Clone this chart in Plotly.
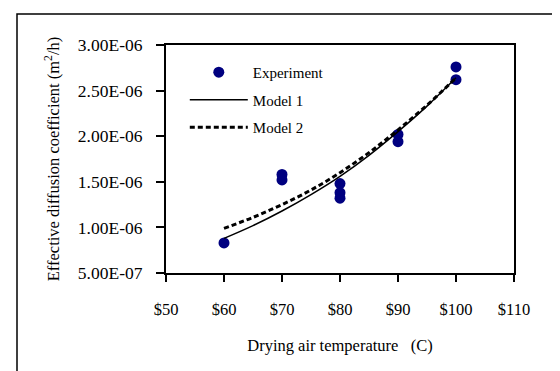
import plotly.graph_objects as go

# Data
exp_temp = [60, 70, 70, 80, 80, 80, 90, 90, 100, 100]
exp_deff = [8.3e-7, 1.58e-6, 1.52e-6, 1.48e-6, 1.38e-6, 1.32e-6,
            2.02e-6, 1.94e-6, 2.76e-6, 2.62e-6]

model_temp = [60, 65, 70, 75, 80, 85, 90, 95, 100]
model1_deff = [8.8e-7, 1.02e-6, 1.18e-6, 1.36e-6, 1.56e-6, 1.79e-6, 2.05e-6, 2.33e-6, 2.64e-6]
model2_deff = [9.9e-7, 1.11e-6, 1.25e-6, 1.41e-6, 1.60e-6, 1.82e-6, 2.07e-6, 2.34e-6, 2.64e-6]

x_tickvals = [50, 60, 70, 80, 90, 100, 110]
x_ticktext = ["$50", "$60", "$70", "$80", "$90", "$100", "$110"]
y_tickvals = [5e-7, 1e-6, 1.5e-6, 2e-6, 2.5e-6, 3e-6]
y_ticktext = ["5.00E-07", "1.00E-06", "1.50E-06", "2.00E-06", "2.50E-06", "3.00E-06"]

FONT = "Liberation Serif, Times New Roman, serif"

fig = go.Figure()
fig.add_trace(go.Scatter(
    x=exp_temp, y=exp_deff, mode="markers", name="Experiment",
    marker=dict(color="#000080", size=11, line=dict(width=0)),
    legendgroup="a"))
fig.add_trace(go.Scatter(
    x=model_temp, y=model1_deff, mode="lines", name="Model 1",
    line=dict(color="black", width=1.5, shape="spline"), legendgroup="b"))
fig.add_trace(go.Scatter(
    x=model_temp, y=model2_deff, mode="lines", name="Model 2",
    line=dict(color="black", width=3, dash="5px,3px", shape="spline"), legendgroup="c"))

fig.update_layout(
    width=560, height=371,
    margin=dict(l=158, r=54, t=37, b=106),
    paper_bgcolor="white", plot_bgcolor="white",
    font=dict(family=FONT, size=15, color="black"),
    showlegend=True,
    legend=dict(x=0.054, y=0.952, xanchor="left", yanchor="top",
                bgcolor="rgba(0,0,0,0)", itemwidth=58,
                font=dict(size=15), tracegroupgap=5, traceorder="grouped"),
    xaxis=dict(range=[50, 110], tickvals=x_tickvals, ticktext=x_ticktext,
               showgrid=False, zeroline=False, showline=True, mirror=True,
               linecolor="black", linewidth=2, ticks="outside", ticklen=7,
               tickcolor="black", tickwidth=1.5, ticklabelstandoff=13,
               tickfont=dict(size=16.5),
               title=dict(text="Drying air temperature &nbsp;&nbsp;(C)", standoff=22,
                          font=dict(size=16.5))),
    yaxis=dict(range=[5e-7, 3e-6], tickvals=y_tickvals, ticktext=y_ticktext,
               showgrid=False, zeroline=False, showline=True, mirror=True,
               linecolor="black", linewidth=2, ticks="outside", ticklen=8,
               tickcolor="black", tickwidth=1.5, ticklabelstandoff=10,
               tickfont=dict(size=17.5),
               title=dict(text="Effective diffusion coefficient (m<sup>2</sup>/h)",
                          standoff=14, font=dict(size=16.5))),
    shapes=[dict(type="rect", xref="paper", yref="paper",
                 x0=(9 - 158) / 348, x1=2.0, y0=-1.0, y1=1 + 31 / 228,
                 line=dict(color="black", width=1.5), fillcolor="rgba(0,0,0,0)")],
)

fig.write_html("out.html")
